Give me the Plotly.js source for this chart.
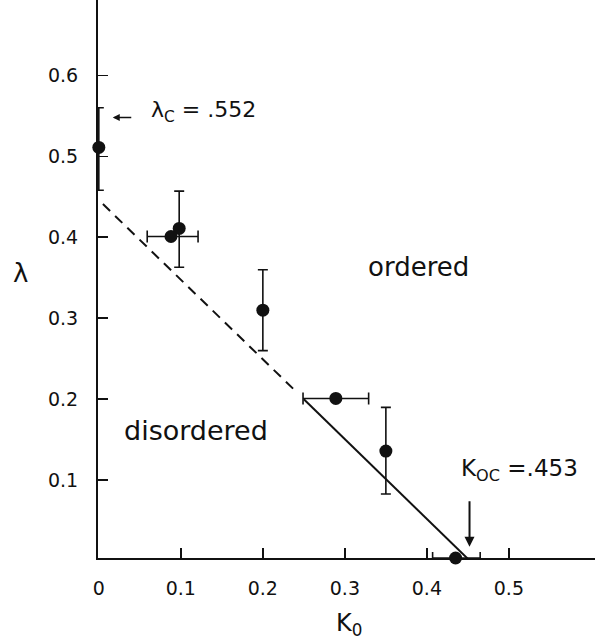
<!DOCTYPE html>
<html>
<head>
<meta charset="utf-8">
<script src="https://cdn.plot.ly/plotly-3.0.1.min.js"></script>
<style>html,body{margin:0;padding:0;background:#fff;}#chart{width:600px;height:644px;}</style>
</head>
<body>
<div id="chart"></div>
<script>
// Points with vertical error bars
var vK  = [0, 0.098, 0.2, 0.35];
var vL  = [0.511, 0.411, 0.31, 0.136];
var vUp = [0.56, 0.457, 0.36, 0.19];
var vLo = [0.458, 0.363, 0.26, 0.083];
// Points with horizontal error bars
var hK     = [0.088, 0.289, 0.435];
var hL     = [0.401, 0.201, 0.004];
var hLeft  = [0.059, 0.249, 0.407];
var hRight = [0.121, 0.329, 0.465];
// Phase boundary line
var dashK  = [0.005, 0.238];
var dashL  = [0.441, 0.212];
var solidK = [0.25, 0.453];
var solidL = [0.2, 0.0];
// Ticks
var xTickVals = [0, 0.1, 0.2, 0.3, 0.4, 0.5];
var xTickText = ['0', '0.1', '0.2', '0.3', '0.4', '0.5'];
var yTickVals = [0.1, 0.2, 0.3, 0.4, 0.5, 0.6];
var yTickText = ['0.1', '0.2', '0.3', '0.4', '0.5', '0.6'];

var FONT = 'DejaVu Sans, sans-serif';
var INK = '#111';

var traces = [
  {x: dashK, y: dashL, mode: 'lines', line: {color: INK, width: 2, dash: '10px,7px'}, hoverinfo: 'skip'},
  {x: solidK, y: solidL, mode: 'lines', line: {color: INK, width: 2}, hoverinfo: 'skip'},
  {x: vK, y: vL, mode: 'markers', marker: {color: INK, size: 13}, cliponaxis: false,
   error_y: {type: 'data', symmetric: false,
     array: vUp.map(function(u, i){ return u - vL[i]; }),
     arrayminus: vLo.map(function(l, i){ return vL[i] - l; }),
     color: INK, thickness: 1.6, width: 5}},
  {x: hK, y: hL, mode: 'markers', marker: {color: INK, size: 13}, cliponaxis: false,
   error_x: {type: 'data', symmetric: false,
     array: hRight.map(function(r, i){ return r - hK[i]; }),
     arrayminus: hLeft.map(function(l, i){ return hK[i] - l; }),
     color: INK, thickness: 1.6, width: 6}}
];

var layout = {
  width: 600, height: 644,
  margin: {l: 98, r: 5, t: 0, b: 86},
  paper_bgcolor: '#fff', plot_bgcolor: '#fff',
  showlegend: false,
  font: {family: FONT, color: INK},
  xaxis: {
    range: [-0.001, 0.605], showgrid: false, zeroline: false,
    showline: true, linecolor: INK, linewidth: 2,
    ticks: 'inside', ticklen: 10, tickwidth: 1.6, tickcolor: INK,
    tickvals: xTickVals, ticktext: xTickText,
    tickfont: {size: 19, family: FONT, color: INK},
    ticklabelstandoff: 12
  },
  yaxis: {
    range: [0.004, 0.693], showgrid: false, zeroline: false,
    showline: true, linecolor: INK, linewidth: 2,
    ticks: 'inside', ticklen: 10, tickwidth: 1.6, tickcolor: INK,
    tickvals: yTickVals, ticktext: yTickText,
    tickfont: {size: 19, family: FONT, color: INK},
    ticklabelstandoff: 14
  },
  annotations: [
    {xref: 'paper', yref: 'paper', x: -0.155, y: 0.511, xanchor: 'center', yanchor: 'middle',
     text: 'λ', showarrow: false, font: {size: 26, family: FONT, color: INK}},
    {xref: 'paper', yref: 'paper', x: 0.505, y: -0.12, xanchor: 'center', yanchor: 'middle',
     text: 'K<sub>0</sub>', showarrow: false, font: {size: 24, family: FONT, color: INK}},
    {x: 0.39, y: 0.363, text: 'ordered', showarrow: false,
     font: {size: 26, family: FONT, color: INK}},
    {x: 0.119, y: 0.162, text: 'disordered', showarrow: false,
     font: {size: 27, family: FONT, color: INK}},
    {x: 0.061, y: 0.555, text: 'λ<sub>C</sub> = .552', showarrow: false, xanchor: 'left', yanchor: 'middle',
     font: {size: 22, family: FONT, color: INK}},
    {x: 0.017, y: 0.548, text: '', showarrow: true, ax: 20, ay: 0,
     arrowhead: 2, arrowsize: 1, arrowwidth: 1.4, arrowcolor: INK},
    {x: 0.439, y: 0.113, text: 'K<sub>OC</sub> =.453', showarrow: false, xanchor: 'left', yanchor: 'middle',
     font: {size: 23, family: FONT, color: INK}},
    {x: 0.452, y: 0.018, text: '', showarrow: true, ax: 0, ay: -47,
     arrowhead: 2, arrowsize: 1, arrowwidth: 2, arrowcolor: INK}
  ]
};

Plotly.newPlot('chart', traces, layout, {displayModeBar: false, staticPlot: true});
</script>
</body>
</html>
